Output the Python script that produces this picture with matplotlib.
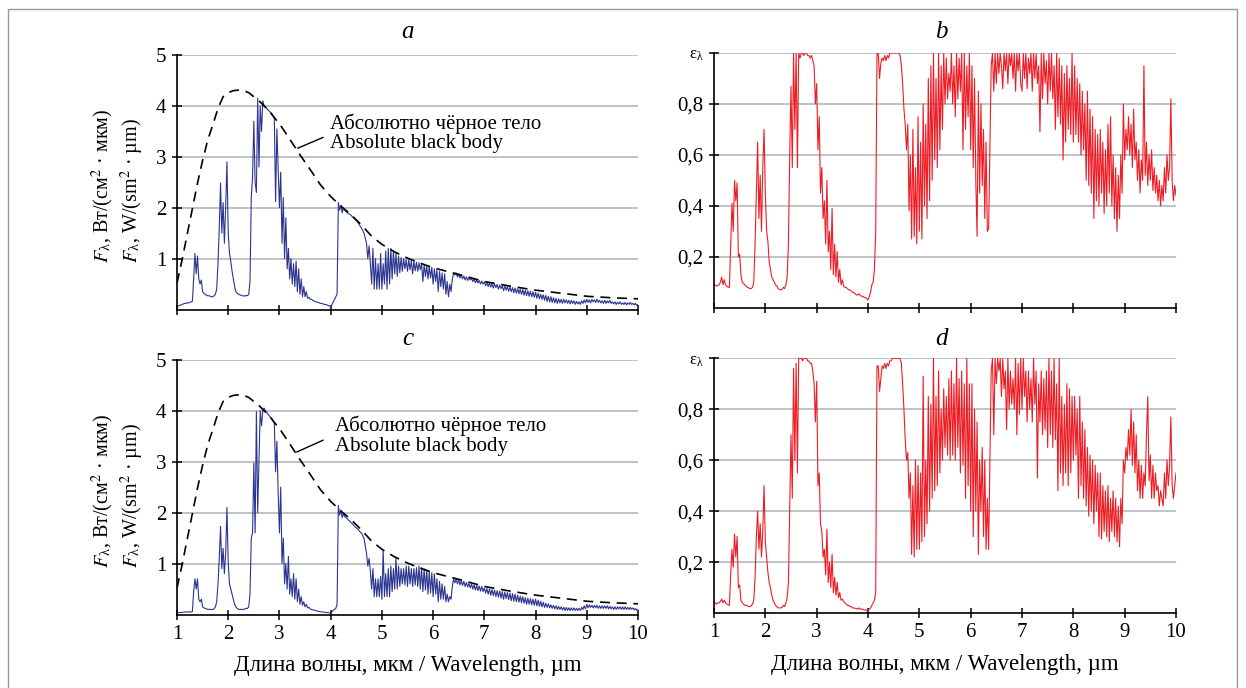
import numpy as np
import matplotlib
matplotlib.use("Agg")
import matplotlib.pyplot as plt
from matplotlib.patches import Rectangle

plt.rcParams["font.family"] = ["Liberation Serif", "DejaVu Serif"]
plt.rcParams["mathtext.fontset"] = "stix"

wavelength = np.round(np.arange(1.0, 10.0001, 0.025), 3)

# spectral emissivity, panel b
eps_b = [
    0.09, 0.088, 0.085, 0.087, 0.09, 0.10, 0.12, 0.09, 0.11, 0.09, 0.085, 0.08, 0.08, 0.25, 0.41, 0.30, 0.50, 0.42, 0.49, 0.20,
    0.21, 0.13, 0.10, 0.095, 0.09, 0.085, 0.08, 0.078, 0.075, 0.075, 0.08, 0.10, 0.25, 0.45, 0.65, 0.35, 0.52, 0.30, 0.55, 0.70,
    0.45, 0.30, 0.26, 0.18, 0.15, 0.12, 0.11, 0.10, 0.09, 0.085, 0.075, 0.072, 0.07, 0.072, 0.08, 0.075, 0.09, 0.12, 0.25, 0.60,
    0.87, 0.55, 1.0, 0.70, 1.0, 0.55, 1.0, 0.98, 1.0, 1.0, 0.99, 1.0, 1.0, 0.99, 0.99, 0.98, 0.99, 0.97, 0.95, 0.80,
    0.88, 0.62, 0.75, 0.45, 0.55, 0.35, 0.42, 0.25, 0.50, 0.22, 0.30, 0.15, 0.39, 0.13, 0.25, 0.12, 0.22, 0.10, 0.15, 0.09,
    0.11, 0.085, 0.08, 0.08, 0.075, 0.07, 0.07, 0.065, 0.06, 0.06, 0.055, 0.05, 0.05, 0.055, 0.048, 0.045, 0.045, 0.04, 0.04, 0.035,
    0.03, 0.045, 0.06, 0.09, 0.10, 0.15, 0.30, 1.0, 1.0, 0.90, 0.96, 0.98, 0.97, 0.99, 0.97, 0.99, 0.98, 1.0, 1.0, 1.0,
    1.0, 1.0, 1.0, 1.0, 1.0, 0.99, 0.95, 0.88, 0.78, 0.72, 0.62, 0.72, 0.38, 0.60, 0.27, 0.70, 0.28, 0.55, 0.25, 0.75,
    0.30, 0.65, 0.27, 0.80, 0.40, 0.72, 0.35, 0.90, 0.42, 0.95, 0.50, 1.0, 0.58, 0.90, 0.55, 1.0, 0.62, 0.95, 0.70, 1.0,
    0.80, 0.98, 0.82, 0.92, 0.85, 1.0, 0.80, 0.95, 0.75, 1.0, 0.82, 0.98, 0.85, 1.0, 0.62, 1.0, 0.70, 0.95, 0.75, 1.0,
    0.62, 0.95, 0.55, 0.90, 0.50, 0.28, 0.85, 0.45, 0.80, 0.48, 0.70, 0.35, 0.65, 0.30, 0.31, 0.62, 0.95, 1.0, 0.85, 1.0,
    0.88, 1.0, 0.92, 1.0, 0.95, 0.86, 1.0, 0.93, 1.0, 0.88, 1.0, 0.95, 1.0, 0.90, 1.0, 0.85, 1.0, 0.93, 1.0, 0.88,
    0.85, 1.0, 0.90, 1.0, 0.86, 0.98, 0.92, 1.0, 0.85, 1.0, 0.90, 1.0, 0.88, 0.95, 0.69, 1.0, 0.82, 1.0, 0.88, 0.97,
    0.80, 1.0, 0.85, 1.0, 0.82, 0.95, 0.70, 1.0, 0.75, 0.98, 0.72, 0.95, 0.58, 0.92, 0.65, 0.95, 0.70, 0.90, 0.68, 1.0,
    0.65, 0.95, 0.68, 0.90, 0.65, 0.88, 0.60, 0.85, 0.62, 0.80, 0.50, 0.85, 0.48, 0.78, 0.45, 0.75, 0.35, 0.70, 0.42, 0.68,
    0.40, 0.70, 0.45, 0.65, 0.37, 0.62, 0.40, 0.72, 0.45, 0.75, 0.40, 0.60, 0.35, 0.55, 0.30, 0.52, 0.35, 0.60, 0.45, 0.80,
    0.58, 0.70, 0.62, 0.75, 0.60, 0.72, 0.55, 0.78, 0.58, 0.65, 0.50, 0.62, 0.45, 0.58, 0.50, 0.95, 0.52, 0.65, 0.48, 0.60,
    0.50, 0.62, 0.46, 0.55, 0.45, 0.52, 0.42, 0.50, 0.40, 0.48, 0.42, 0.55, 0.45, 0.60, 0.50, 0.55, 0.82, 0.50, 0.42, 0.48,
    0.44,
]

# spectral emissivity, panel d
eps_d = [
    0.04, 0.04, 0.035, 0.04, 0.04, 0.045, 0.055, 0.04, 0.05, 0.04, 0.035, 0.032, 0.03, 0.15, 0.25, 0.18, 0.31, 0.22, 0.30, 0.10,
    0.11, 0.05, 0.04, 0.035, 0.03, 0.03, 0.028, 0.025, 0.025, 0.028, 0.035, 0.05, 0.14, 0.30, 0.40, 0.25, 0.35, 0.22, 0.32, 0.50,
    0.28, 0.22, 0.16, 0.12, 0.10, 0.07, 0.05, 0.04, 0.03, 0.025, 0.02, 0.02, 0.02, 0.022, 0.03, 0.025, 0.04, 0.06, 0.12, 0.40,
    0.70, 0.45, 0.96, 0.60, 0.98, 0.55, 1.0, 1.0, 1.0, 0.99, 1.0, 1.0, 1.0, 0.99, 0.99, 0.98, 0.98, 0.95, 0.90, 0.75,
    0.91, 0.50, 0.55, 0.35, 0.32, 0.22, 0.25, 0.15, 0.33, 0.12, 0.20, 0.10, 0.23, 0.08, 0.14, 0.07, 0.12, 0.06, 0.08, 0.05,
    0.055, 0.045, 0.04, 0.035, 0.03, 0.03, 0.025, 0.025, 0.02, 0.02, 0.018, 0.018, 0.015, 0.02, 0.015, 0.015, 0.015, 0.012, 0.012, 0.01,
    0.01, 0.015, 0.02, 0.03, 0.04, 0.05, 0.08, 0.97, 0.97, 0.87, 0.92, 0.97, 0.96, 0.98, 0.96, 0.98, 0.97, 0.99, 0.99, 1.0,
    1.0, 1.0, 1.0, 1.0, 1.0, 1.0, 0.98, 0.90, 0.80, 0.68, 0.60, 0.63, 0.45, 0.55, 0.23, 0.50, 0.22, 0.60, 0.25, 0.58,
    0.25, 0.55, 0.28, 0.93, 0.30, 0.60, 0.35, 0.85, 0.40, 0.82, 0.45, 1.0, 0.48, 0.85, 0.50, 0.95, 0.55, 0.80, 0.60, 0.88,
    0.65, 0.85, 0.62, 0.92, 0.60, 0.95, 0.62, 0.90, 0.60, 1.0, 0.65, 0.92, 0.55, 0.95, 0.58, 0.90, 0.45, 1.0, 0.50, 0.90,
    0.40, 0.90, 0.30, 0.80, 0.40, 0.75, 0.23, 0.60, 0.40, 0.65, 0.30, 0.60, 0.25, 0.45, 0.25, 0.60, 0.95, 1.0, 0.70, 1.0,
    0.90, 1.0, 0.95, 1.0, 0.85, 1.0, 0.88, 0.95, 0.72, 1.0, 0.80, 0.95, 0.82, 0.92, 0.80, 1.0, 0.70, 0.98, 0.78, 1.0,
    0.80, 1.0, 0.85, 0.95, 0.75, 0.95, 0.80, 0.92, 0.75, 1.0, 0.82, 0.95, 0.53, 0.90, 0.75, 0.95, 0.70, 0.92, 0.72, 0.95,
    0.65, 1.0, 0.70, 0.95, 0.65, 1.0, 0.68, 0.90, 0.48, 1.0, 0.55, 0.85, 0.50, 0.82, 0.55, 0.90, 0.50, 0.88, 0.55, 0.85,
    0.60, 0.85, 0.62, 0.80, 0.45, 0.85, 0.50, 0.75, 0.45, 0.72, 0.42, 0.65, 0.38, 0.62, 0.40, 0.60, 0.35, 0.58, 0.40, 0.55,
    0.30, 0.55, 0.29, 0.50, 0.32, 0.48, 0.30, 0.50, 0.28, 0.45, 0.32, 0.48, 0.30, 0.45, 0.28, 0.42, 0.26, 0.45, 0.35, 0.60,
    0.55, 0.65, 0.60, 0.72, 0.62, 0.80, 0.58, 0.75, 0.55, 0.70, 0.48, 0.60, 0.45, 0.58, 0.45, 0.55, 0.50, 0.70, 0.85, 0.52,
    0.62, 0.45, 0.58, 0.45, 0.55, 0.48, 0.50, 0.42, 0.48, 0.45, 0.42, 0.55, 0.45, 0.60, 0.50, 0.58, 0.77, 0.50, 0.45, 0.50,
    0.55,
]

# spectral flux, W/(sm^2 um), panel a
flux_a = [
    0.05, 0.07, 0.08, 0.09, 0.10, 0.11, 0.12, 0.12, 0.13, 0.13, 0.14, 0.15, 0.16, 0.60, 1.10, 0.70, 1.05, 0.60, 0.50, 0.58,
    0.35, 0.32, 0.30, 0.28, 0.27, 0.27, 0.26, 0.25, 0.25, 0.27, 0.30, 0.40, 0.90, 1.60, 2.48, 1.50, 2.10, 1.30, 2.00, 2.90,
    1.50, 1.10, 0.95, 0.75, 0.60, 0.45, 0.35, 0.32, 0.30, 0.29, 0.28, 0.27, 0.27, 0.26, 0.28, 0.27, 0.30, 0.55, 2.20, 2.60,
    3.70, 2.50, 2.30, 4.15, 2.80, 4.00, 3.50, 4.10, 4.00, 3.98, 3.95, 3.92, 3.90, 3.87, 3.85, 3.80, 3.75, 2.12, 3.55, 2.80,
    2.00, 2.70, 1.30, 2.20, 1.00, 1.80, 0.80, 1.20, 0.60, 1.00, 0.50, 0.90, 0.45, 0.95, 0.35, 0.80, 0.30, 0.60, 0.25, 0.45,
    0.25, 0.35, 0.22, 0.24, 0.20, 0.20, 0.18, 0.17, 0.15, 0.15, 0.14, 0.13, 0.12, 0.12, 0.11, 0.10, 0.10, 0.09, 0.08, 0.07,
    0.05, 0.10, 0.15, 0.20, 0.25, 0.30, 2.10, 1.95, 2.05, 1.90, 2.00, 1.95, 1.92, 1.90, 1.88, 1.87, 1.85, 1.82, 1.80, 1.77,
    1.75, 1.72, 1.68, 1.64, 1.60, 1.55, 1.50, 1.40, 1.30, 1.00, 1.25, 0.90, 0.50, 1.20, 0.40, 1.00, 0.40, 0.90, 0.40, 1.10,
    0.40, 0.90, 0.50, 1.15, 0.40, 1.20, 0.50, 1.20, 0.60, 1.15, 0.70, 1.10, 0.65, 1.05, 0.72, 1.02, 0.75, 1.00, 0.80, 0.98,
    0.75, 0.98, 0.78, 0.96, 0.70, 0.95, 0.76, 0.93, 0.75, 0.92, 0.78, 0.90, 0.55, 0.88, 0.65, 0.86, 0.60, 0.85, 0.62, 0.83,
    0.50, 0.80, 0.55, 0.78, 0.35, 0.75, 0.45, 0.72, 0.40, 0.70, 0.30, 0.55, 0.25, 0.50, 0.35, 0.60, 0.70, 0.68, 0.72, 0.64,
    0.69, 0.62, 0.67, 0.60, 0.66, 0.58, 0.64, 0.57, 0.63, 0.58, 0.61, 0.55, 0.60, 0.53, 0.58, 0.52, 0.57, 0.50, 0.56, 0.50,
    0.54, 0.47, 0.53, 0.45, 0.52, 0.44, 0.51, 0.42, 0.50, 0.43, 0.49, 0.40, 0.48, 0.41, 0.47, 0.37, 0.46, 0.38, 0.45, 0.36,
    0.44, 0.35, 0.43, 0.33, 0.42, 0.32, 0.41, 0.31, 0.40, 0.30, 0.39, 0.28, 0.38, 0.27, 0.37, 0.26, 0.36, 0.25, 0.35, 0.24,
    0.34, 0.22, 0.32, 0.21, 0.30, 0.20, 0.29, 0.18, 0.28, 0.16, 0.26, 0.15, 0.25, 0.14, 0.23, 0.13, 0.22, 0.12, 0.21, 0.13,
    0.20, 0.12, 0.20, 0.13, 0.19, 0.12, 0.18, 0.11, 0.18, 0.12, 0.17, 0.10, 0.16, 0.11, 0.15, 0.10, 0.17, 0.12, 0.19, 0.13,
    0.20, 0.14, 0.19, 0.13, 0.20, 0.15, 0.19, 0.14, 0.20, 0.14, 0.18, 0.13, 0.17, 0.12, 0.18, 0.12, 0.17, 0.13, 0.18, 0.12,
    0.15, 0.11, 0.15, 0.10, 0.14, 0.11, 0.15, 0.10, 0.13, 0.10, 0.14, 0.09, 0.13, 0.10, 0.14, 0.10, 0.12, 0.09, 0.12, 0.08,
    0.10,
]

# spectral flux, panel c
flux_c = [
    0.03, 0.035, 0.04, 0.04, 0.04, 0.045, 0.05, 0.05, 0.05, 0.05, 0.05, 0.05, 0.06, 0.45, 0.70, 0.50, 0.70, 0.30, 0.25, 0.30,
    0.15, 0.13, 0.12, 0.11, 0.10, 0.10, 0.10, 0.10, 0.10, 0.11, 0.15, 0.25, 0.60, 1.10, 1.73, 0.90, 1.30, 0.80, 1.20, 2.10,
    1.00, 0.60, 0.50, 0.40, 0.30, 0.20, 0.15, 0.12, 0.10, 0.10, 0.10, 0.10, 0.10, 0.11, 0.12, 0.12, 0.15, 0.40, 1.50, 1.60,
    2.97, 1.60, 3.98, 2.00, 3.00, 4.00, 3.70, 4.00, 4.05, 4.00, 3.97, 3.93, 3.90, 3.87, 3.85, 3.80, 3.75, 2.80, 3.40, 2.40,
    1.60, 2.50, 1.00, 1.50, 0.60, 1.00, 0.50, 1.14, 0.40, 0.70, 0.35, 0.80, 0.30, 0.70, 0.25, 0.50, 0.20, 0.35, 0.18, 0.25,
    0.15, 0.20, 0.13, 0.14, 0.11, 0.10, 0.09, 0.09, 0.08, 0.07, 0.065, 0.06, 0.055, 0.05, 0.05, 0.045, 0.04, 0.04, 0.035, 0.03,
    0.03, 0.05, 0.08, 0.10, 0.12, 0.20, 2.14, 1.95, 2.05, 1.90, 1.98, 1.92, 1.90, 1.88, 1.85, 1.83, 1.80, 1.78, 1.75, 1.72,
    1.70, 1.68, 1.65, 1.62, 1.60, 1.55, 1.50, 1.35, 1.20, 0.95, 1.10, 0.85, 0.50, 0.90, 0.35, 0.70, 0.35, 0.70, 0.35, 0.75,
    0.30, 1.27, 0.35, 0.80, 0.35, 0.90, 0.35, 0.95, 0.45, 0.90, 0.50, 1.10, 0.50, 0.95, 0.55, 0.90, 0.60, 0.90, 0.58, 0.95,
    0.55, 0.95, 0.60, 0.90, 0.55, 0.90, 0.58, 0.92, 0.55, 0.95, 0.50, 0.92, 0.45, 0.90, 0.48, 0.88, 0.40, 0.85, 0.42, 0.82,
    0.35, 0.80, 0.40, 0.70, 0.25, 0.65, 0.30, 0.60, 0.30, 0.55, 0.25, 0.40, 0.25, 0.35, 0.30, 0.55, 0.70, 0.62, 0.70, 0.60,
    0.68, 0.58, 0.66, 0.57, 0.65, 0.55, 0.63, 0.54, 0.61, 0.52, 0.60, 0.50, 0.58, 0.48, 0.57, 0.47, 0.56, 0.46, 0.55, 0.45,
    0.52, 0.42, 0.51, 0.40, 0.50, 0.38, 0.49, 0.37, 0.48, 0.35, 0.47, 0.34, 0.46, 0.32, 0.45, 0.30, 0.44, 0.31, 0.43, 0.29,
    0.42, 0.27, 0.41, 0.26, 0.40, 0.25, 0.38, 0.24, 0.36, 0.23, 0.35, 0.22, 0.33, 0.20, 0.32, 0.20, 0.31, 0.19, 0.30, 0.18,
    0.30, 0.17, 0.28, 0.16, 0.26, 0.15, 0.24, 0.14, 0.22, 0.14, 0.21, 0.13, 0.19, 0.12, 0.18, 0.11, 0.17, 0.10, 0.16, 0.10,
    0.15, 0.09, 0.14, 0.08, 0.14, 0.08, 0.13, 0.08, 0.13, 0.08, 0.13, 0.08, 0.12, 0.08, 0.12, 0.08, 0.14, 0.10, 0.17, 0.11,
    0.20, 0.13, 0.19, 0.14, 0.18, 0.13, 0.18, 0.13, 0.18, 0.12, 0.17, 0.12, 0.17, 0.12, 0.17, 0.12, 0.17, 0.11, 0.16, 0.11,
    0.15, 0.10, 0.15, 0.10, 0.15, 0.11, 0.15, 0.10, 0.15, 0.10, 0.15, 0.10, 0.14, 0.10, 0.14, 0.10, 0.13, 0.09, 0.12, 0.08,
    0.10,
]

# black body curve (dashed)
bb_wavelength = [1.0, 1.1, 1.2, 1.3, 1.4, 1.5, 1.6, 1.7, 1.8, 1.9, 2.0, 2.1, 2.2, 2.3, 2.4, 2.5,
                 2.6, 2.7, 2.8, 2.9, 3.0, 3.2, 3.4, 3.6, 3.8, 4.0, 4.2, 4.4, 4.6, 4.8, 5.0,
                 5.25, 5.5, 5.75, 6.0, 6.5, 7.0, 7.5, 8.0, 8.5, 9.0, 9.5, 10.0]
bb_flux = [0.52, 0.98, 1.48, 1.98, 2.48, 2.93, 3.33, 3.63, 3.95, 4.18, 4.26, 4.30, 4.31, 4.30, 4.26, 4.18,
           4.10, 4.00, 3.90, 3.77, 3.65, 3.35, 3.04, 2.75, 2.45, 2.22, 2.03, 1.86, 1.66, 1.44, 1.28,
           1.13, 1.01, 0.91, 0.82, 0.69, 0.55, 0.46, 0.38, 0.32, 0.26, 0.23, 0.21]

x_ticks = list(range(1, 11))
flux_ticks = [1, 2, 3, 4, 5]
eps_ticks = [0.2, 0.4, 0.6, 0.8, 1.0]
eps_labels = ["0,2", "0,4", "0,6", "0,8", r"ε$_\mathregular{λ}$"]

xlabel = "Длина волны, мкм / Wavelength, µm"
ylabel_ru = r"$F_\mathregular{λ}$, Вт/(см$^2$ · мкм)"
ylabel_en = r"$F_\mathregular{λ}$, W/(sm$^2$ · µm)"
bb_label = "Абсолютно чёрное тело\nAbsolute black body"

W, H = 1246, 688
GRID = "#aab4b9"
BLUE = "#2b3590"
RED = "#ee1c24"


def px_axes(fig, left, top, right, bottom):
    return fig.add_axes([left / W, 1 - bottom / H, (right - left) / W, (bottom - top) / H])


def style_axes(ax, bottom_row):
    ax.set_xlim(1, 10)
    ax.set_xticks(x_ticks)
    ax.spines[["top", "right"]].set_visible(False)
    for s in ("left", "bottom"):
        ax.spines[s].set_linewidth(1.2)
    ax.yaxis.grid(True, color=GRID, lw=1.1)
    ax.set_axisbelow(True)
    ax.tick_params(direction="inout", length=7, width=1.1, labelsize=15, pad=4)
    if bottom_row:
        ax.set_xlabel(xlabel, fontsize=16.5, labelpad=8)
    else:
        ax.tick_params(axis="x", labelbottom=False)


def flux_panel(ax, flux, bottom_row, txt_x, txt_y, lead):
    style_axes(ax, bottom_row)
    ax.set_ylim(0, 5)
    ax.set_yticks(flux_ticks)
    ax.plot(wavelength, flux, color=BLUE, lw=0.8)
    ax.plot(bb_wavelength, bb_flux, color="black", lw=1.2, dashes=(6, 4))
    ax.plot(lead[0], lead[1], color="black", lw=1.0)
    ax.text(txt_x, txt_y, bb_label, fontsize=15, ha="left", va="center", linespacing=1.05)


def eps_panel(ax, eps, bottom_row):
    style_axes(ax, bottom_row)
    ax.set_ylim(0, 1)
    ax.set_yticks(eps_ticks)
    ax.set_yticklabels(eps_labels)
    ax.get_yticklabels()[-1].set_fontsize(12)
    ax.plot(wavelength, eps, color=RED, lw=0.8)


assert len(eps_b) == len(eps_d) == len(flux_a) == len(flux_c) == len(wavelength)

fig = plt.figure(figsize=(W / 100, H / 100), dpi=100)

ax_a = px_axes(fig, 177, 55, 638, 309.5)
ax_b = px_axes(fig, 714, 53, 1176, 307.7)
ax_c = px_axes(fig, 177, 359.7, 638, 614.5)
ax_d = px_axes(fig, 714, 358.3, 1176, 613)

flux_panel(ax_a, flux_a, False, 3.98, 3.46, ([3.36, 3.85], [3.17, 3.38]))
eps_panel(ax_b, eps_b, False)
flux_panel(ax_c, flux_c, True, 4.08, 3.51, ([3.34, 3.85], [3.19, 3.42]))
eps_panel(ax_d, eps_d, True)

for label, x, y in [("a", 408, 32), ("b", 941, 32), ("c", 408, 339), ("d", 941, 339)]:
    fig.text(x / W, 1 - y / H, label, fontsize=18, style="italic", ha="center", va="center")

for y_end in (263, 568):
    fig.text(103 / W, 1 - y_end / H, ylabel_ru, fontsize=14.5, rotation=90, ha="center", va="bottom")
    fig.text(132 / W, 1 - y_end / H, ylabel_en, fontsize=14.5, rotation=90, ha="center", va="bottom")

fig.patches.append(Rectangle((8 / W, -0.05), 1229 / W, 1.05 - 8.5 / H, transform=fig.transFigure,
                             fill=False, edgecolor="#9a9a9a", lw=1.0))

fig.savefig("out.png", dpi=100)
